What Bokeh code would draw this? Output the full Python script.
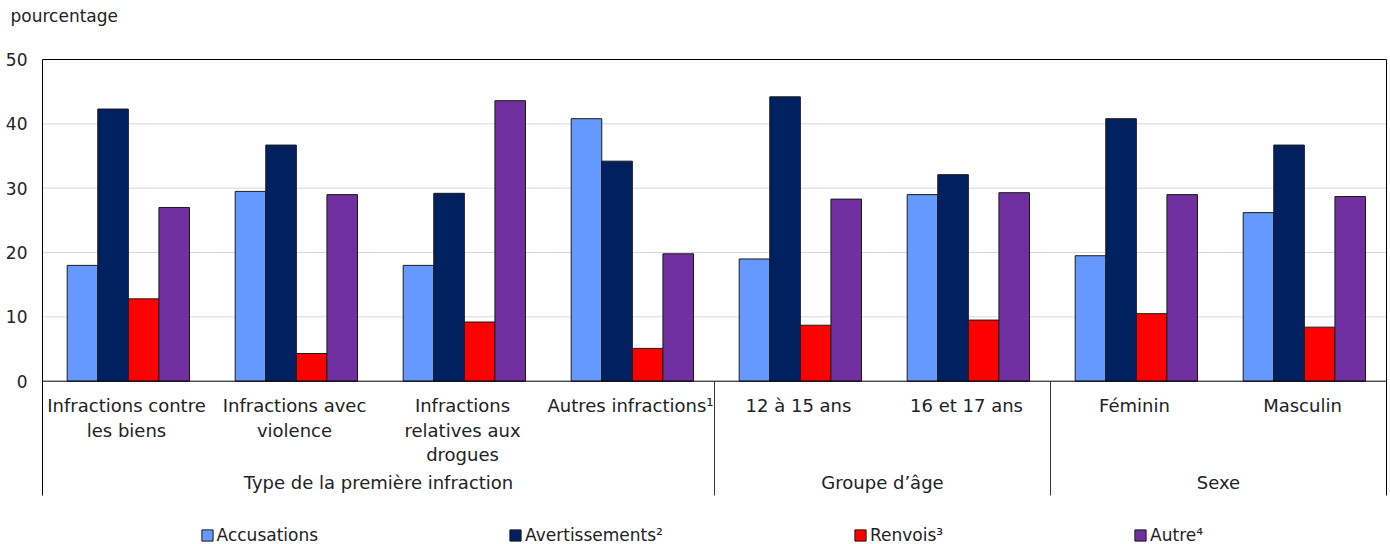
from bokeh.plotting import figure
from bokeh.models import Range1d, FixedTicker, Legend, LegendItem, Title
from bokeh.core.properties import value
from bokeh.embed import file_html
from bokeh.resources import INLINE

# ---------------- data ----------------
categories = ["Infractions contre\nles biens", "Infractions avec\nviolence",
              "Infractions\nrelatives aux\ndrogues", "Autres infractions\u00b9",
              "12 \u00e0 15 ans", "16 et 17 ans", "F\u00e9minin", "Masculin"]
groups = ["Type de la premi\u00e8re infraction", "Groupe d\u2019\u00e2ge", "Sexe"]
group_sizes = [4, 2, 2]

series_names = ["Accusations", "Avertissements\u00b2", "Renvois\u00b3", "Autre\u2074"]
accusations = [18.0, 29.5, 18.0, 40.8, 19.0, 29.0, 19.5, 26.2]
avertissements = [42.3, 36.7, 29.2, 34.2, 44.2, 32.1, 40.8, 36.7]
renvois = [12.8, 4.3, 9.2, 5.1, 8.7, 9.5, 10.5, 8.4]
autre = [27.0, 29.0, 43.6, 19.8, 28.3, 29.3, 29.0, 28.7]
series = [accusations, avertissements, renvois, autre]
colors = ["#6699FF", "#002060", "#FF0000", "#7030A0"]

y_ticks = [0, 10, 20, 30, 40, 50]
grid_ticks = [10, 20, 30, 40]
y_label = "pourcentage"

# ---------------- geometry ----------------
N = len(categories)
PX_X = 168.0          # pixels per category
PX_Y = 6.434          # pixels per percent
X0 = -1.0 / PX_X
X1 = N + 4.0 / PX_X
Y_TOP = 50 + 1.0 / PX_Y
Y_BOT = -(544 - 380.7) / PX_Y
Y_LINE = -(495 - 380.7) / PX_Y   # bottom of the vertical rules

FONT = value("DejaVu Sans")
TXT = "#222222"

p = figure(width=1390, height=544, x_range=Range1d(X0, X1),
           y_range=Range1d(Y_BOT, Y_TOP), output_backend="svg",
           toolbar_location=None, x_axis_location=None, title_location=None,
           min_border_left=41, min_border_right=0,
           min_border_top=58, min_border_bottom=0)
p.outline_line_color = None
p.background_fill_color = "white"
p.border_fill_color = "white"
p.xgrid.visible = False
p.ygrid.visible = False

# spacer between the axis title and the frame, then the axis title itself
p.add_layout(Title(text=" ", text_font_size="17px", text_font="DejaVu Sans",
                   standoff=9, text_color="white"), "above")
p.add_layout(Title(text=y_label, align="left", vertical_align="top", offset=-31,
                   standoff=0, text_font="DejaVu Sans", text_font_size="17px",
                   text_font_style="normal", text_color=TXT), "above")

ax = p.yaxis[0]
ax.ticker = FixedTicker(ticks=y_ticks)
ax.major_tick_out = 0
ax.major_tick_in = 0
ax.minor_tick_out = 0
ax.minor_tick_in = 0
ax.major_label_standoff = 14
ax.major_label_text_font = "DejaVu Sans"
ax.major_label_text_font_size = "17px"
ax.major_label_text_color = TXT
ax.axis_line_color = None

# grid lines
p.segment(x0=[0] * len(grid_ticks), y0=grid_ticks, x1=[N] * len(grid_ticks), y1=grid_ticks,
          line_color="#d9d9d9", line_width=1)

# bars
bw = 0.182
renderers = []
for k, (vals, col) in enumerate(zip(series, colors)):
    xs = [i + 0.5 + 0.011 + (k - 1.5) * bw for i in range(N)]
    r = p.vbar(x=xs, top=vals, width=bw, fill_color=col,
               line_color="#1a1a1a", line_width=1)
    renderers.append(r)

# frame rules: left, right (down below axis), top, zero line
p.segment(x0=[0, N], y0=[50, 50], x1=[0, N], y1=[Y_LINE, Y_LINE],
          line_color="black", line_width=1)
p.segment(x0=[0, 0], y0=[50, 0], x1=[N, N], y1=[50, 0],
          line_color="black", line_width=1)

# group separators below the axis
bounds = []
acc = 0
for s in group_sizes[:-1]:
    acc += s
    bounds.append(acc)
p.segment(x0=bounds, y0=[0] * len(bounds), x1=bounds, y1=[Y_LINE] * len(bounds),
          line_color="#333333", line_width=1)

# category labels
p.text(x=[i + 0.5 for i in range(N)], y=[-2.14] * N,
       text=categories, text_align="center", text_baseline="top",
       text_font=FONT, text_font_size="18px", text_color=TXT, text_line_height=1.17)

# group labels
gx = []
start = 0
for s in group_sizes:
    gx.append(start + s / 2)
    start += s
p.text(x=gx, y=[-15.72] * len(groups), text=groups, text_align="center",
       text_baseline="middle", text_font=FONT, text_font_size="18px", text_color=TXT)

# legend (inside the frame, near its bottom)
legend = Legend(items=[LegendItem(label=n, renderers=[r]) for n, r in zip(series_names, renderers)],
                orientation="horizontal", location=(158.6, -1), spacing=190,
                padding=0, margin=0, border_line_color=None, background_fill_alpha=0,
                glyph_width=14, glyph_height=14, label_standoff=3,
                label_text_font="DejaVu Sans", label_text_font_size="17px",
                label_text_color=TXT, label_height=18)
p.add_layout(legend, "center")

open("out.html", "w").write(file_html(p, INLINE))
